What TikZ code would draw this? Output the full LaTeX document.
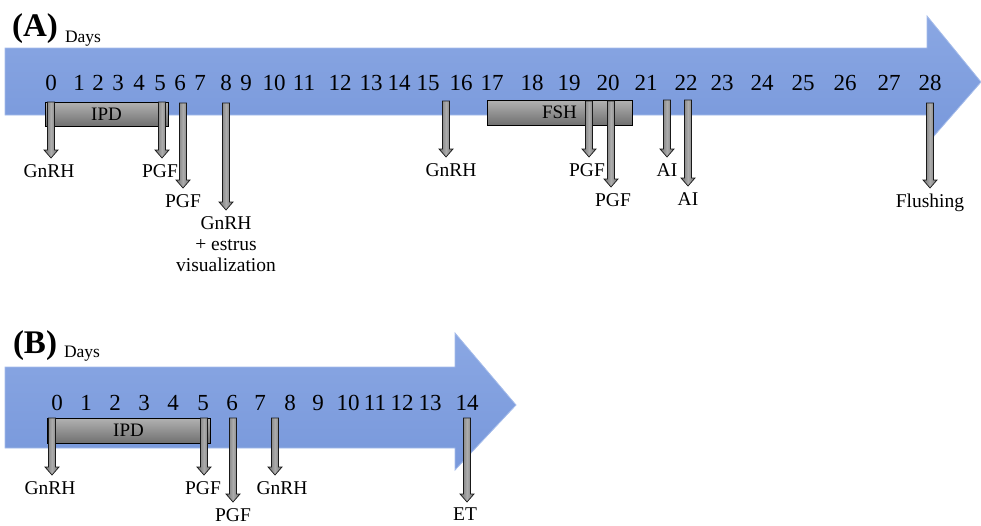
\documentclass[tikz,border=0pt]{standalone}
\usepackage{fontspec}
\setmainfont{Liberation Serif}
\usetikzlibrary{calc}
\definecolor{tlblue}{RGB}{120,152,219}
\definecolor{tlblueL}{RGB}{138,167,227}
\definecolor{tledge}{RGB}{165,188,234}
\definecolor{boxtop}{RGB}{178,178,178}
\definecolor{boxbot}{RGB}{112,112,112}
\tikzset{
 timeline/.style={top color=tlblueL, bottom color=tlblue, draw=tledge, line width=0.8pt},
 num/.style={font=\fontsize{23}{24}\selectfont, inner sep=0pt},
 lbl/.style={font=\fontsize{19.5}{21}\selectfont, inner sep=0pt, align=center, anchor=north},
 grbox/.style={draw=black, line width=1pt, top color=boxtop, bottom color=boxbot, font=\fontsize{19}{20}\selectfont, inner sep=0pt},
 blk/.style={draw=black!90, line width=0.7pt, left color=gray!85!black, right color=gray!85!black, middle color=gray!65},
 ttl/.style={font=\fontsize{33}{34}\selectfont\bfseries, inner sep=0pt},
 days/.style={font=\fontsize{17.5}{18}\selectfont, inner sep=0pt},
}
\newcommand\blockarr[2]{\path[blk] let \p1=(#1), \p2=(#2) in
 ({\x1-3.5pt},\y1) -- ({\x1+3.5pt},\y1) -- ({\x1+3.5pt},{\y2+8pt}) -- ({\x1+7pt},{\y2+8pt})
 -- (\x1,\y2) -- ({\x1-7pt},{\y2+8pt}) -- ({\x1-3.5pt},{\y2+8pt}) -- cycle;}
\begin{document}
\begin{tikzpicture}[x=1pt,y=-1pt]
\useasboundingbox (0,0) rectangle (981,525);
% ---------------- (A)
\path[timeline] (5,48) -- (927,48) -- (927,16) -- (981,82) -- (927,144) -- (927,115) -- (5,115) -- cycle;
\node[ttl] (tA) at (35,29) {(A)};
\node[days] (dA) at (83,39) {Days};
\foreach \n/\x in {0/51,1/79,2/98,3/118,4/139,5/160,6/180,7/200,8/226,9/246,10/274,11/304,12/340,13/371,14/399,15/428,16/461,17/492,18/532,19/569,20/608,21/646,22/686,23/722,24/762,25/803,26/845,27/889,28/930}
  \node[num] (a\n) at (\x,83) {\n};
\node[grbox, minimum width=123pt, minimum height=24pt] (ipdA) at (106.5,114) {IPD};
\node[grbox, minimum width=145pt, minimum height=25pt] (fsh) at (559.5,112.5) {FSH};
\foreach \nm/\x/\yt/\lx/\ly/\txt in {
  g0/51/102/49/164/GnRH, p5/162/102/160/164/PGF, p6/183/103/183/194/PGF,
  g8/226/103/226/216/{GnRH\\+ estrus\\visualization},
  g15/446/101/451/163/GnRH, p19/589/101/587/163/PGF, p20/611/101/613/193/PGF,
  ai21/667/100/667/163/AI, ai22/688/100/688/192/AI, fl/930/103/930/194/Flushing}{
  \coordinate (s\nm) at (\x,\yt);
  \node[lbl] (l\nm) at (\lx,\ly) {\txt};
  \blockarr{s\nm}{$(s\nm |- l\nm.north)+(0,-6)$}
}
% ---------------- (B)
\path[timeline] (5,367) -- (455,367) -- (455,333) -- (516,405) -- (455,470) -- (455,448) -- (5,448) -- cycle;
\node[ttl] (tB) at (35,346) {(B)};
\node[days] (dB) at (82,354) {Days};
\foreach \n/\x in {0/57,1/86,2/115,3/144,4/173,5/203,6/232,7/260,8/290,9/318,10/348,11/375,12/402,13/430,14/467}
  \node[num] (b\n) at (\x,403) {\n};
\node[grbox, minimum width=163pt, minimum height=25pt] (ipdB) at (128.5,430.5) {IPD};
\foreach \nm/\x/\yt/\lx/\ly/\txt in {
  bg0/52/418/50/481/GnRH, bp5/204/418/203/481/PGF, bp6/233/418/233/508/PGF,
  bg7/275/418/282/481/GnRH, bet/467/418/465/508/ET}{
  \coordinate (s\nm) at (\x,\yt);
  \node[lbl] (l\nm) at (\lx,\ly) {\txt};
  \blockarr{s\nm}{$(s\nm |- l\nm.north)+(0,-6)$}
}
\end{tikzpicture}
\end{document}
